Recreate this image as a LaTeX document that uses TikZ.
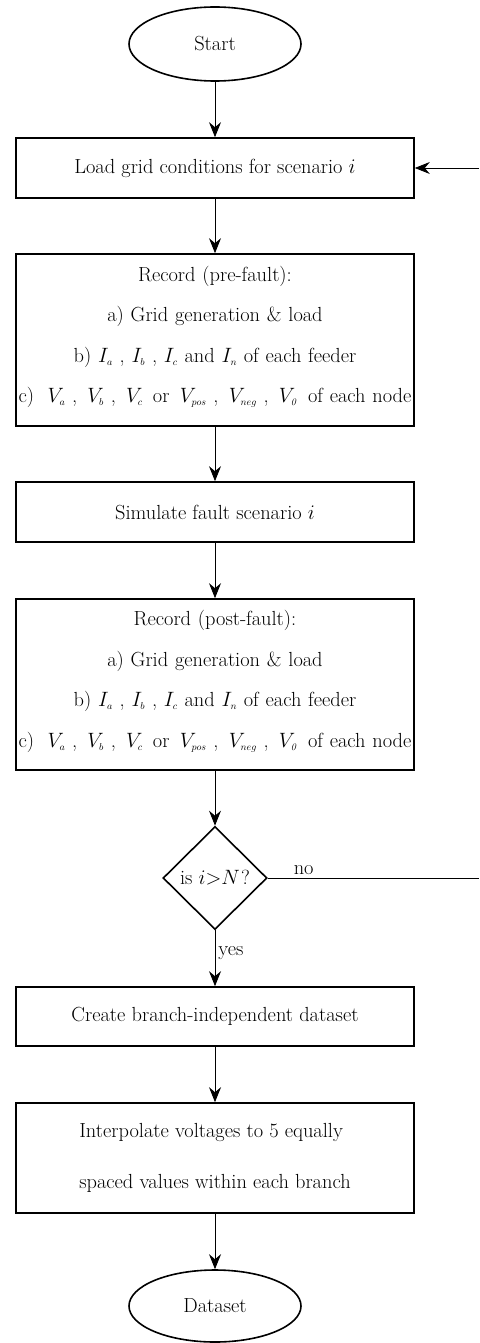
\documentclass[tikz,border=0pt]{standalone}
\usetikzlibrary{shapes.geometric,arrows.meta}
\newcommand\sbs[1]{_{\scriptscriptstyle #1}}
\begin{document}
\begin{tikzpicture}[x=1pt,y=-1pt,
  every node/.style={font=\fontsize{20.4}{24}\selectfont},
  term/.style={draw,ellipse,line width=1.6pt,minimum width=172pt,minimum height=74pt,inner sep=0pt},
  proc/.style={draw,rectangle,line width=1.6pt,minimum width=398pt,inner sep=0pt},
  rectext/.style={inner sep=0pt,text width=398pt,align=center,font=\fontsize{20.4}{40.5}\selectfont},
  dec/.style={draw,diamond,line width=1.6pt,minimum width=104pt,minimum height=103pt,inner sep=0pt},
  conn/.style={line width=0.8pt,-{Stealth[length=15pt,width=12pt,inset=5pt]}},
  plain/.style={line width=0.8pt}]
\useasboundingbox (0,0) rectangle (479,1343);
\node[term] (start) at (215,44) {Start};
\node[proc,minimum height=60pt] (load) at (215,168) {Load grid conditions for scenario $i$};
\node[proc,minimum height=172pt] (pre) at (215,340) {};
\node[rectext] (pretext) at (215,337)
  {Record (pre-fault):\\a) Grid generation \& load\\b) $I\sbs{a}$ , $I\sbs{b}$ , $I\sbs{c}$ and $I\sbs{n}$ of each feeder\\\makebox[398pt][c]{c) \,\,$V\sbs{a}$ , \,$V\sbs{b}$ , \,$V\sbs{c}$ \,or \,$V\sbs{pos}$ , \,$V\sbs{neg}$ , \,$V\sbs{\mathit{0}}$ \,of each node}};
\node[proc,minimum height=60pt] (sim) at (215,512) {Simulate fault scenario $i$};
\node[proc,minimum height=171pt] (post) at (215,684.5) {};
\node[rectext] (posttext) at (215,681.5)
  {Record (post-fault):\\a) Grid generation \& load\\b) $I\sbs{a}$ , $I\sbs{b}$ , $I\sbs{c}$ and $I\sbs{n}$ of each feeder\\\makebox[398pt][c]{c) \,\,$V\sbs{a}$ , \,$V\sbs{b}$ , \,$V\sbs{c}$ \,or \,$V\sbs{pos}$ , \,$V\sbs{neg}$ , \,$V\sbs{\mathit{0}}$ \,of each node}};
\node[dec] (dec) at (215,878) {is $i{>}N\mkern1mu$?};
\node[proc,minimum height=59pt] (create) at (215,1016.5) {Create branch-independent dataset};
\node[proc,minimum height=110pt,align=left,font=\fontsize{20.4}{51}\selectfont] (interp) at (215,1158)
  {Interpolate voltages to 5 equally\\spaced values within each branch};
\node[term,minimum height=72pt] (data) at (215,1306) {Dataset};
\coordinate (noend) at (479,878);
\coordinate (fbstart) at (479,168);
\draw[conn] (start) -- (load);
\draw[conn] (load) -- (pre);
\draw[conn] (pre) -- (sim);
\draw[conn] (sim) -- (post);
\draw[conn] (post) -- (dec);
\draw[conn] (dec) -- node[right,pos=0.4,inner sep=3pt] {yes} (create);
\draw[conn] (create) -- (interp);
\draw[conn] (interp) -- (data);
\draw[plain] (dec.east) -- node[above,pos=0.17,inner sep=3pt] {no} (noend);
\draw[conn] (fbstart) -- (load.east);
\end{tikzpicture}
\end{document}
